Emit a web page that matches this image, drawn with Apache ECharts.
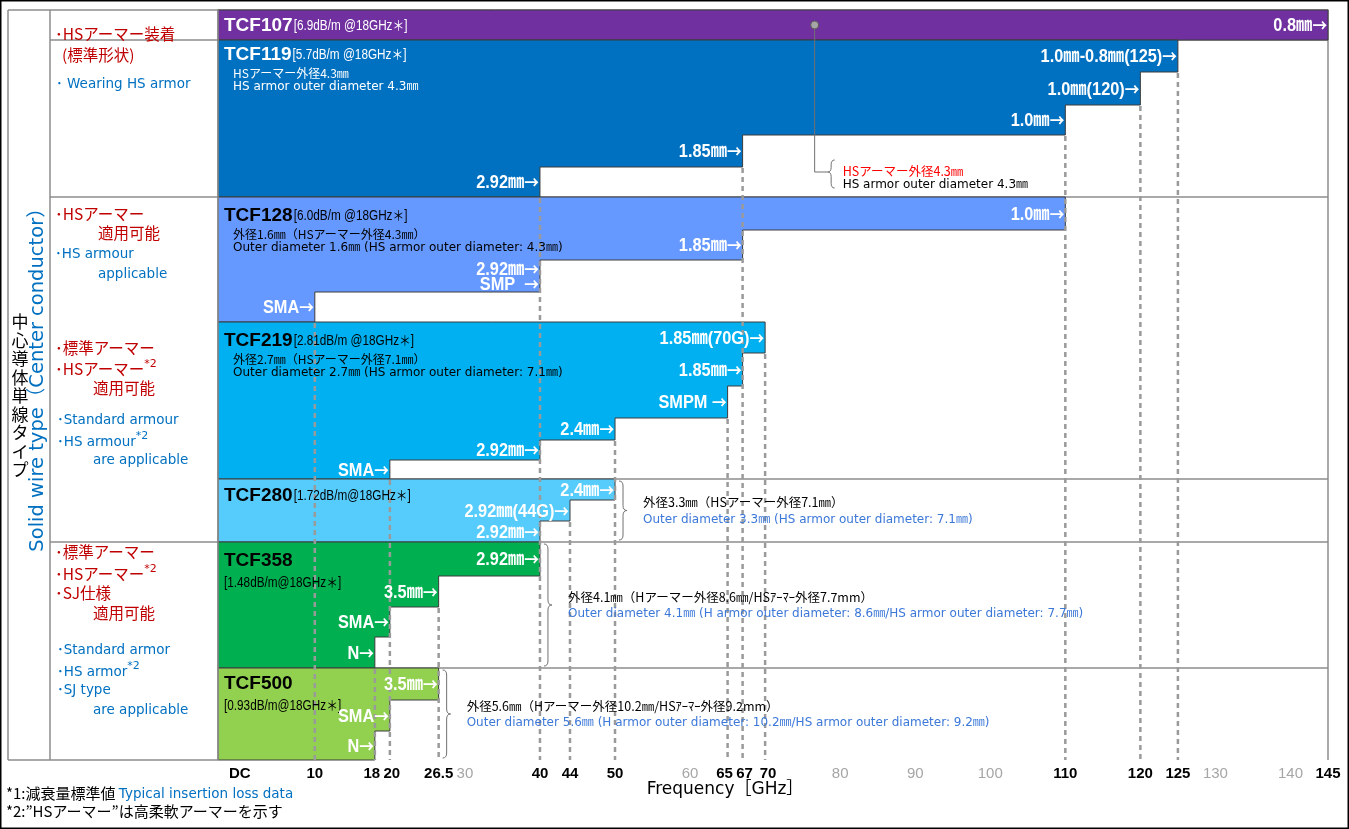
<!DOCTYPE html>
<html>
<head>
<meta charset="utf-8">
<title>Solid wire type cables – frequency range</title>
<script src="https://cdn.jsdelivr.net/npm/echarts@6.0.0/dist/echarts.min.js"></script>
<style>
html,body{margin:0;padding:0;background:#fff;}
#chart{width:1349px;height:829px;}
</style>
</head>
<body>
<div id="chart"></div>
<script>
// ================= DATA =================
const cables = ['TCF107','TCF119','TCF128','TCF219','TCF280','TCF358','TCF500'];
const lossLabels = ['[6.9dB/m @18GHz＊]','[5.7dB/m @18GHz＊]','[6.0dB/m @18GHz＊]','[2.81dB/m @18GHz＊]','[1.72dB/m@18GHz＊]','[1.48dB/m@18GHz＊]','[0.93dB/m@18GHz＊]'];

// connectors per cable and their upper frequency limit [GHz]
const connTCF107 = ['0.8㎜'];
const fmaxTCF107 = [145];
const connTCF119 = ['1.0㎜-0.8㎜(125)','1.0㎜(120)','1.0㎜','1.85㎜','2.92㎜'];
const fmaxTCF119 = [125,120,110,67,40];
const connTCF128 = ['1.0㎜','1.85㎜','2.92㎜|SMP  ','SMA'];
const fmaxTCF128 = [110,67,40,10];
const connTCF219 = ['1.85㎜(70G)','1.85㎜','SMPM ','2.4㎜','2.92㎜','SMA'];
const fmaxTCF219 = [70,67,65,50,40,20];
const connTCF280 = ['2.4㎜','2.92㎜(44G)','2.92㎜'];
const fmaxTCF280 = [50,44,40];
const connTCF358 = ['2.92㎜','3.5㎜','SMA','N'];
const fmaxTCF358 = [40,26.5,20,18];
const connTCF500 = ['3.5㎜','SMA','N'];
const fmaxTCF500 = [26.5,20,18];

const descTCF119 = ['HSアーマー外径4.3㎜','HS armor outer diameter 4.3㎜'];
const descTCF128 = ['外径1.6㎜（HSアーマー外径4.3㎜）','Outer diameter 1.6㎜ (HS armor outer diameter: 4.3㎜)'];
const descTCF219 = ['外径2.7㎜（HSアーマー外径7.1㎜）','Outer diameter 2.7㎜ (HS armor outer diameter: 7.1㎜)'];
const noteTCF107 = ['HSアーマー外径4.3㎜','HS armor outer diameter 4.3㎜'];
const noteTCF280 = ['外径3.3㎜（HSアーマー外径7.1㎜）','Outer diameter 3.3㎜ (HS armor outer diameter: 7.1㎜)'];
const noteTCF358 = ['外径4.1㎜（Hアーマー外径8.6㎜/HSｱｰﾏｰ外径7.7mm）','Outer diameter 4.1㎜ (H armor outer diameter: 8.6㎜/HS armor outer diameter: 7.7㎜)'];
const noteTCF500 = ['外径5.6㎜（Hアーマー外径10.2㎜/HSｱｰﾏｰ外径9.2mm）','Outer diameter 5.6㎜ (H armor outer diameter: 10.2㎜/HS armor outer diameter: 9.2㎜)'];

const tickValues = [0,10,18,20,26.5,30,40,44,50,60,65,67,70,80,90,100,110,120,125,130,140,145];
const tickLabels = ['DC','10','18','20','26.5','30','40','44','50','60','65','67','70','80','90','100','110','120','125','130','140','145'];
const tickMinor  = [30,60,80,90,100,130,140];

// ================= LAYOUT / STYLE =================
const connList = [connTCF107,connTCF119,connTCF128,connTCF219,connTCF280,connTCF358,connTCF500];
const fmaxList = [fmaxTCF107,fmaxTCF119,fmaxTCF128,fmaxTCF219,fmaxTCF280,fmaxTCF358,fmaxTCF500];
const descList = [null,descTCF119,descTCF128,descTCF219,null,null,null];
const X_MIN = -2.9, X_MAX = 145;
const levelHeights = [[30],[32,33,30,32,30],[33,30,32,30],[31,33,32,22,20,19],[21,21,21],[34,31,30,31],[32,31,29]];
const bandColors = ['#7030A0','#0070C0','#6699FF','#00B0F0','#56CCFD','#00B050','#92D050'];
const nameColors = ['#fff','#fff','#000','#000','#000','#000','#000'];
const nameOffset = [16,15,19,19,17,19,16];
const lossOnNewLine = [false,false,false,false,false,true,true];
const notePointFreq = 76.6;
const labelNudge = {18: -3, 20: 2, 65: -3, 67: 2, 70: 3}; // px, avoids label collisions

const bandTops = []; let acc = 0;
levelHeights.forEach(h => { bandTops.push(acc); acc += h.reduce((a,b)=>a+b,0); });
const Y_MAX = acc;

const F_SANS = '"Liberation Sans",Arial,"Noto Sans CJK JP",sans-serif';
const F_UI = '"DejaVu Sans","Noto Sans CJK JP",sans-serif';
const F_JP = '"Noto Sans CJK JP","DejaVu Sans",sans-serif';
const RED = '#C00000', BLUE = '#0070C0', NOTE_BLUE = '#3C78D8';

const mctx = document.createElement('canvas').getContext('2d');
function textW(font, s) { mctx.font = font; return mctx.measureText(s).width; }

// dashed guide lines: from the highest step corner of each frequency down to the axis
const dashTop = {};
fmaxList.forEach((f,i) => {
  let y = bandTops[i];
  f.forEach((fr,j) => {
    y += levelHeights[i][j];
    if (fr < X_MAX) dashTop[fr] = Math.min(dashTop[fr] === undefined ? Infinity : dashTop[fr], y);
  });
});
const dashData = Object.keys(dashTop).map(k => [parseFloat(k), dashTop[k]]);

function bracePath(x, y0, y1, ym, w, dir) {
  const r = Math.min(5, (y1 - y0) / 6);
  const xm = x + dir * w / 2, xt = x + dir * w;
  return `M${x} ${y0} Q${xm} ${y0} ${xm} ${y0 + r} L${xm} ${ym - r} Q${xm} ${ym} ${xt} ${ym} ` +
         `Q${xm} ${ym} ${xm} ${ym + r} L${xm} ${y1 - r} Q${xm} ${y1} ${x} ${y1}`;
}

// axis label rich styles
const axisRich = {};
tickValues.forEach((v, k) => {
  const s = labelNudge[v] || 0;
  axisRich['t' + k] = {
    fontFamily: F_SANS, fontSize: 15,
    fontWeight: tickMinor.includes(v) ? 'normal' : 'bold',
    color: tickMinor.includes(v) ? '#a6a6a6' : '#000',
    padding: [0, s < 0 ? -2 * s : 0, 0, s > 0 ? 2 * s : 0]
  };
});

const stepRich = {
  a: {fill: '#fff', color: '#fff', fontFamily: F_SANS, fontWeight: 'bold', fontSize: 19, lineHeight: 15},
  r: {fill: '#fff', color: '#fff', fontFamily: F_JP, fontWeight: 'bold', fontSize: 17, lineHeight: 15}
};

const chart = echarts.init(document.getElementById('chart'), null, {renderer: 'canvas'});

const option = {
  animation: false,
  backgroundColor: '#fff',
  grid: {left: 218, right: 21, top: 10, bottom: 69, containLabel: false},
  xAxis: {
    type: 'value', min: X_MIN, max: X_MAX,
    axisLine: {show: true, lineStyle: {color: '#8c8c8c', width: 1.5}},
    axisTick: {show: false},
    splitLine: {show: false},
    axisLabel: {
      customValues: tickValues,
      margin: 6,
      formatter: v => {
        const k = tickValues.findIndex(t => Math.abs(t - v) < 1e-6);
        return k >= 0 ? '{t' + k + '|' + tickLabels[k] + '}' : '';
      },
      rich: axisRich
    }
  },
  yAxis: {type: 'value', min: 0, max: Y_MAX, inverse: true, show: false},
  series: [
    { // stepped areas
      type: 'custom', z: 2, silent: true, clip: false,
      data: cables.map((c, i) => ({name: c, value: [i]})),
      renderItem: (params, api) => {
        const i = params.dataIndex;
        const f = fmaxList[i], hs = levelHeights[i];
        let y = bandTops[i];
        const pts = [api.coord([X_MIN, y])];
        for (let j = 0; j < hs.length; j++) {
          pts.push(api.coord([f[j], y]));
          y += hs[j];
          pts.push(api.coord([f[j], y]));
        }
        pts.push(api.coord([X_MIN, y]));
        return {type: 'polygon', shape: {points: pts},
                style: {fill: bandColors[i], stroke: '#3c3c3c', lineWidth: 1}};
      }
    },
    { // dashed guides
      type: 'custom', z: 3, silent: true, clip: false,
      data: dashData,
      renderItem: (params, api) => {
        const p0 = api.coord([api.value(0), api.value(1)]);
        const p1 = api.coord([api.value(0), Y_MAX]);
        return {type: 'line', shape: {x1: p0[0], y1: p0[1] + 1, x2: p1[0], y2: p1[1]},
                style: {stroke: '#9a9a9a', lineWidth: 2.5, lineDash: [5, 4]}};
      }
    },
    { // labels inside bands
      type: 'custom', z: 4, silent: true, clip: false,
      data: cables.map((c, i) => ({name: c, value: [i]})),
      renderItem: (params, api) => {
        const i = params.dataIndex;
        const children = [];
        const topPx = api.coord([X_MIN, bandTops[i]]);
        const x0 = topPx[0] + 6, yName = topPx[1] + nameOffset[i];
        const nameFont = 'bold 19px ' + F_SANS;
        children.push({type: 'text', x: x0, y: yName, style: {text: cables[i], fill: nameColors[i],
          fontFamily: F_SANS, fontWeight: 'bold', fontSize: 19, verticalAlign: 'middle'}});
        if (lossOnNewLine[i]) {
          children.push({type: 'text', x: x0, y: yName + 22, scaleX: 0.84, style: {text: lossLabels[i], fill: nameColors[i],
            fontFamily: F_SANS, fontSize: 14, verticalAlign: 'middle'}});
        } else {
          const w = textW(nameFont, cables[i]);
          children.push({type: 'text', x: x0 + w + 1, y: yName + 7, scaleX: 0.84, style: {text: lossLabels[i], fill: nameColors[i],
            fontFamily: F_SANS, fontSize: 14, verticalAlign: 'bottom'}});
        }
        if (descList[i]) {
          descList[i].forEach((t, k) => children.push({type: 'text', x: x0 + 9, y: yName + 18 + k * 14,
            style: {text: t, fill: nameColors[i], fontFamily: k === 0 ? F_JP : F_UI, fontSize: 12, verticalAlign: 'middle'}}));
        }
        // connector labels at the right end of each level
        let y = bandTops[i];
        connList[i].forEach((name, j) => {
          const h = levelHeights[i][j];
          const p = api.coord([fmaxList[i][j], y + h / 2]);
          const text = name.split('|').map(s => '{a|' + s + '}{r|→}').join('\n');
          children.push({type: 'text', x: p[0] - 1, y: p[1] + 1, scaleX: 0.86, style: {
            text, rich: stepRich, align: 'right', verticalAlign: 'middle'}});
          y += h;
        });
        return {type: 'group', children};
      }
    },
    { // annotations with braces
      type: 'custom', z: 4, silent: true, clip: false,
      data: [[0], [4], [5], [6]],
      renderItem: (params, api) => {
        const i = api.value(0);
        const children = [];
        if (i === 0) {
          const d = api.coord([notePointFreq, bandTops[0] + levelHeights[0][0] / 2]);
          const yLine = api.coord([notePointFreq, 162])[1];
          const yb0 = api.coord([notePointFreq, 150])[1], yb1 = api.coord([notePointFreq, 178])[1];
          children.push({type: 'polyline', shape: {points: [[d[0], d[1]], [d[0], yLine], [d[0] + 13, yLine]]},
            style: {stroke: '#707070', lineWidth: 1, fill: 'none'}});
          children.push({type: 'circle', shape: {cx: d[0], cy: d[1], r: 4},
            style: {fill: '#a6a6a6', stroke: '#5a5a5a', lineWidth: 1}});
          children.push({type: 'path', shape: {pathData: bracePath(d[0] + 20, yb0, yb1, yLine, 7, -1)},
            style: {fill: 'none', stroke: '#707070', lineWidth: 1}});
          children.push({type: 'text', x: d[0] + 28, y: yLine - 1, style: {text: noteTCF107[0], fill: '#FF0000',
            fontFamily: F_JP, fontSize: 12.5, verticalAlign: 'middle'}});
          children.push({type: 'text', x: d[0] + 28, y: yLine + 13, style: {text: noteTCF107[1], fill: '#000',
            fontFamily: F_UI, fontSize: 12, verticalAlign: 'middle'}});
        } else {
          const lines = i === 4 ? noteTCF280 : (i === 5 ? noteTCF358 : noteTCF500);
          const top = bandTops[i];
          const h = levelHeights[i].reduce((a, b) => a + b, 0);
          const pTop = api.coord([fmaxList[i][0], top]);
          const pBot = api.coord([fmaxList[i][0], top + h]);
          const x = pTop[0] + 4, y0 = pTop[1] + 2, y1 = pBot[1] - 2, ym = (pTop[1] + pBot[1]) / 2;
          children.push({type: 'path', shape: {pathData: bracePath(x, y0, y1, ym, 8, 1)},
            style: {fill: 'none', stroke: '#707070', lineWidth: 1}});
          children.push({type: 'text', x: x + 24, y: ym - 8, style: {text: lines[0], fill: '#000',
            fontFamily: F_JP, fontSize: 12.5, verticalAlign: 'middle'}});
          children.push({type: 'text', x: x + 24, y: ym + 9, style: {text: lines[1], fill: NOTE_BLUE,
            fontFamily: F_UI, fontSize: 12, verticalAlign: 'middle'}});
        }
        return {type: 'group', children};
      }
    }
  ]
};
chart.setOption(option);

// ================= FRAME & SIDE TEXTS (graphic) =================
const px = u => chart.convertToPixel({gridIndex: 0}, [0, u])[1];
const xPx = f => chart.convertToPixel({gridIndex: 0}, [f, 0])[0];
const L0 = 8, L1 = 50, PL = xPx(X_MIN), PR = xPx(X_MAX), PT = px(0), PB = px(Y_MAX);
const GRAY = '#8c8c8c';
const g = [];
const line = (x1, y1, x2, y2, c, w, z) => g.push({type: 'line', z: z || 1, silent: true,
  shape: {x1, y1, x2, y2}, style: {stroke: c || GRAY, lineWidth: w || 1.5}});
// outer black border
g.push({type: 'rect', z: 10, silent: true, shape: {x: 0.75, y: 0.75, width: 1347.5, height: 827.5},
  style: {fill: 'none', stroke: '#000', lineWidth: 1.5}});
// left panel frame
line(L0, PT, PL, PT); line(L0, PB, PL, PB);
line(L0, PT, L0, PB); line(L1, PT, L1, PB); line(PL, PT, PL, PB, GRAY, 1.5, 5);
line(PR, PT, PR, PB);
// separators between groups (full width) and between cables (plot only)
[1, 2, 5].forEach(i => line(L1, px(bandTops[i]), PR, px(bandTops[i])));
[4, 6].forEach(i => line(PL, px(bandTops[i]), PR, px(bandTops[i])));

const txt = (x, y, text, opt) => g.push(Object.assign({type: 'text', x, y, z: 6, silent: true,
  style: Object.assign({text, verticalAlign: 'middle'}, opt)}));
const red = {fill: RED, fontFamily: F_JP, fontSize: 15.5};
const blue = {fill: BLUE, fontFamily: F_UI, fontSize: 13.5};
const supRich = (c, f, fs) => ({m: {fill: c, color: c, fontFamily: f, fontSize: fs, verticalAlign: 'bottom', lineHeight: 18},
                               s: {fill: c, color: c, fontFamily: F_UI, fontSize: 11, verticalAlign: 'top', lineHeight: 18}});
const supR = supRich(RED, F_JP, 15.5), supB = supRich(BLUE, F_UI, 13.5);
// group 1
txt(55, 34, '･HSアーマー装着', red);
txt(62, 55, '(標準形状)', red);
txt(56, 84, '･ Wearing HS armor', blue);
// group 2
txt(55, 214, '･HSアーマー', red);
txt(98, 233, '適用可能', red);
txt(55, 254, '･HS armour', blue);
txt(98, 274, 'applicable', blue);
// group 3
txt(55, 348, '･標準アーマー', red);
txt(55, 368, '{m|･HSアーマー}{s|*2}', {rich: supR});
txt(93, 388, '適用可能', red);
txt(57, 420, '･Standard armour', blue);
txt(57, 440, '{m|･HS armour}{s|*2}', {rich: supB});
txt(93, 460, 'are applicable', blue);
// group 4
txt(55, 552, '･標準アーマー', red);
txt(55, 573, '{m|･HSアーマー}{s|*2}', {rich: supR});
txt(55, 593, '･SJ仕様', red);
txt(93, 613, '適用可能', red);
txt(57, 650, '･Standard armor', blue);
txt(57, 670, '{m|･HS armor}{s|*2}', {rich: supB});
txt(57, 690, '･SJ type', blue);
txt(93, 710, 'are applicable', blue);
// vertical titles
txt(20, 396, '中\n心\n導\n体\n単\n線\nタ\nイ\nプ', {fill: '#000', fontFamily: F_JP, fontSize: 17, lineHeight: 18.5, align: 'center'});
g.push({type: 'text', x: 38, y: 375, rotation: Math.PI / 2, z: 6, silent: true,
  style: {text: 'Solid wire type（Center conductor）', fill: BLUE, fontFamily: F_UI, fontSize: 19.5,
          align: 'center', verticalAlign: 'middle'}});
// axis title and footnotes
txt(725, 790, 'Frequency［GHz］', {fill: '#000', fontFamily: F_UI, fontSize: 17, align: 'center'});
txt(6, 792, '{j|*1:減衰量標準値 }{e|Typical insertion loss data}', {rich: {
  j: {fill: '#000', color: '#000', fontFamily: F_JP, fontSize: 15, verticalAlign: 'bottom', lineHeight: 18},
  e: {fill: BLUE, color: BLUE, fontFamily: F_UI, fontSize: 13.5, verticalAlign: 'bottom', lineHeight: 18}}});
txt(6, 811, '*2:”HSアーマー”は高柔軟アーマーを示す', {fill: '#000', fontFamily: F_JP, fontSize: 15});

chart.setOption({graphic: {elements: g}});
</script>
</body>
</html>
